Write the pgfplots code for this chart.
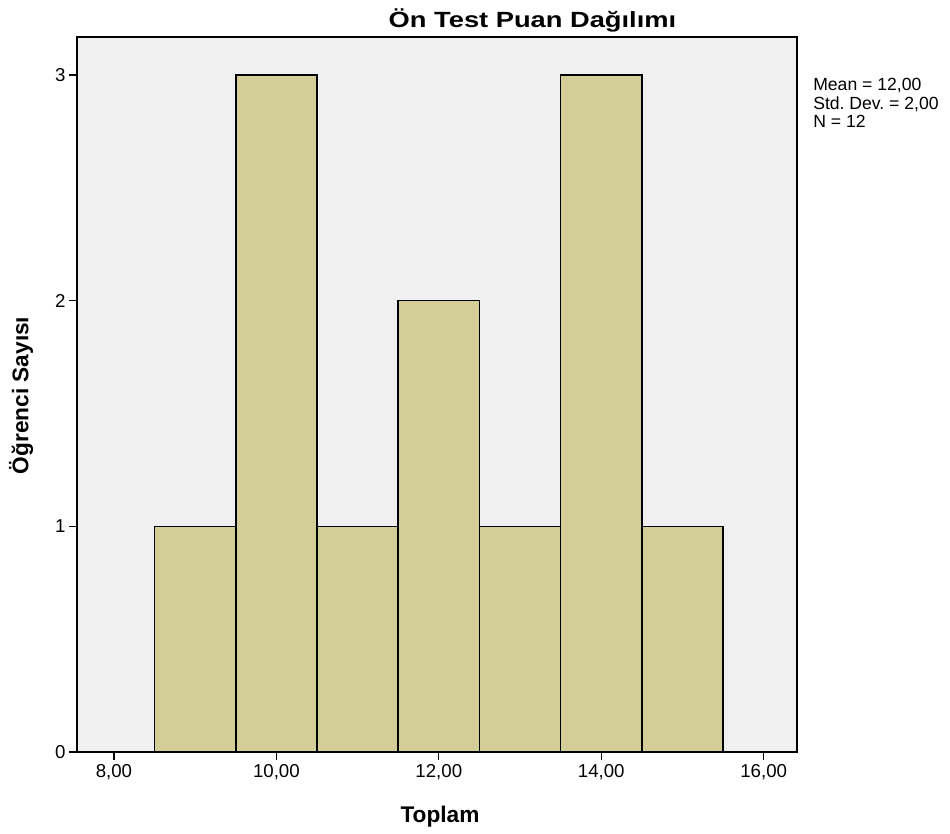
\documentclass[border=0pt]{standalone}
\usepackage{fontspec}
\setmainfont{Liberation Sans}
\usepackage{pgfplots}
\pgfplotsset{compat=1.18}
\definecolor{plotbg}{HTML}{F0F0F0}
\definecolor{barfill}{HTML}{D3CE98}
\frenchspacing
\begin{document}
\begin{tikzpicture}
\useasboundingbox (-57.75pt,-61.5pt) rectangle (654.75pt,564pt);
\begin{axis}[
    at={(0,0)}, anchor=south west,
    scale only axis,
    width=540pt, height=536.25pt,
    xmin=7.545, xmax=16.41,
    ymin=0, ymax=3.168,
    axis background/.style={fill=plotbg},
    axis line style={line width=1pt,black},
    tick align=outside,
    tick pos=left,
    major tick length=6pt,
    tick style={line width=0.9pt,black},
    xtick={8,10,12,14,16},
    xticklabels={{8,00},{10,00},{12,00},{14,00},{16,00}},
    ytick={0,1,2,3},
    yticklabels={0,1,2,3},
    ticklabel style={font=\fontsize{14}{16}\selectfont},
    yticklabel style={xshift=1pt},
]
\addplot[ybar interval, fill=barfill, draw=black, line width=1.1pt] coordinates {
    (8.5,1) (9.5,3) (10.5,1) (11.5,2) (12.5,1) (13.5,3) (14.5,1) (15.5,1)
};
\end{axis}
% titles and labels
\node[anchor=base, font=\bfseries\fontsize{16.5}{18}\selectfont] at (341.6pt,543pt)
    {\scalebox{1.24}[1]{Ön Test Puan Dağılımı}};
\node[anchor=base, font=\bfseries\fontsize{17}{19}\selectfont] at (272.25pt,-53.25pt) {Toplam};
\node[rotate=90, anchor=center, font=\bfseries\fontsize{17}{19}\selectfont] at (-42pt,267.4pt) {Öğrenci Sayısı};
% summary statistics
\node[anchor=base west, inner sep=0pt, font=\fontsize{13.2}{14}\selectfont] at (552pt,495.75pt) {Mean = 12,00};
\node[anchor=base west, inner sep=0pt, font=\fontsize{13.2}{14}\selectfont] at (552pt,481.9pt) {Std. Dev. = 2,00};
\node[anchor=base west, inner sep=0pt, font=\fontsize{13.2}{14}\selectfont] at (552pt,468pt) {N = 12};
\end{tikzpicture}
\end{document}
